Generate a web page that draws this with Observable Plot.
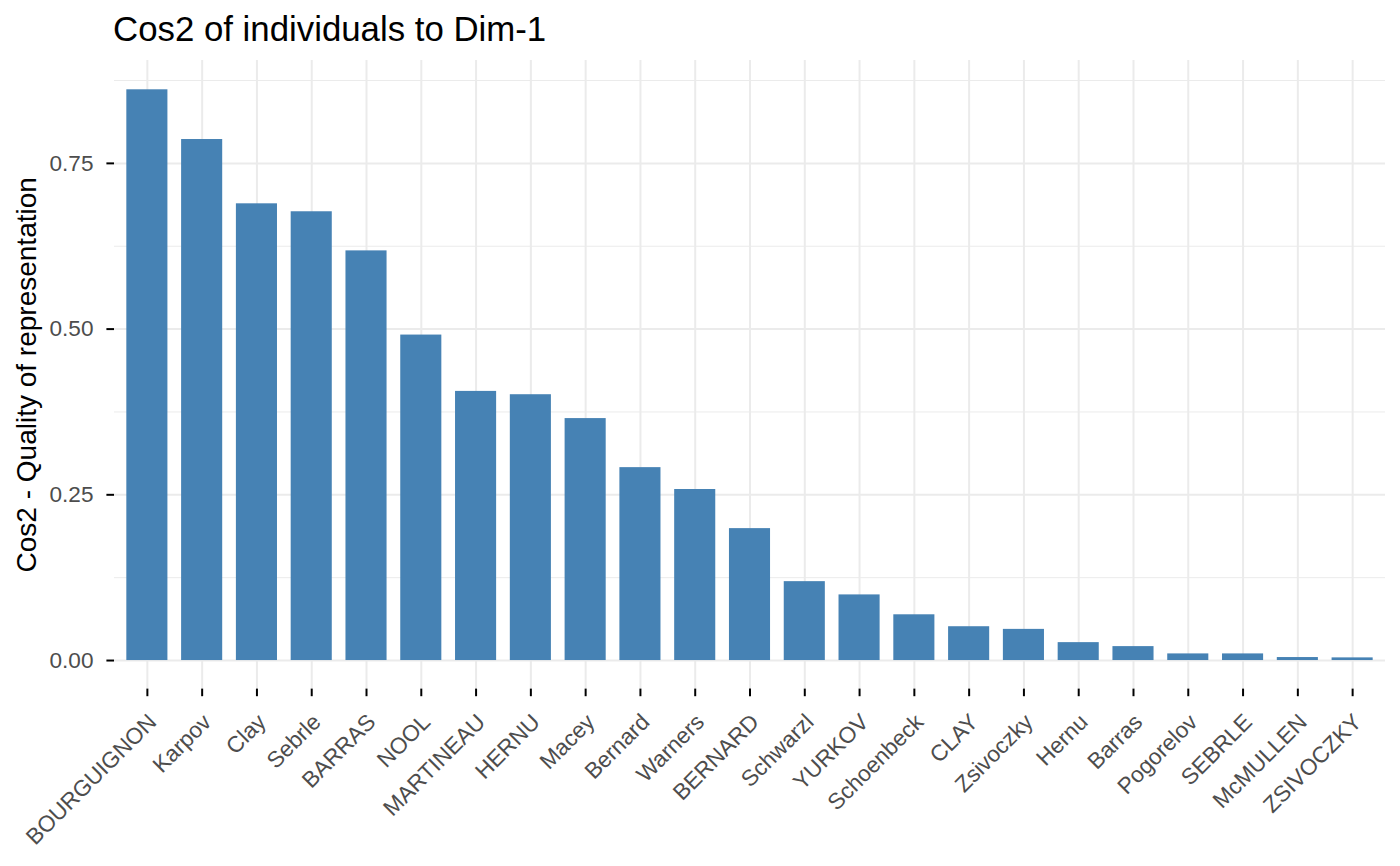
<!DOCTYPE html>
<html>
<head>
<meta charset="utf-8">
<script src="https://cdn.jsdelivr.net/npm/d3@7"></script>
<script src="https://cdn.jsdelivr.net/npm/@observablehq/plot@0.6"></script>
<style>
  html, body { margin: 0; padding: 0; background: #fff; }
  #title { height: 57px; line-height: 57px; padding-left: 113px; font-family: "Liberation Sans", Arial, Helvetica, sans-serif; font-size: 34.8px; color: #000; white-space: nowrap; }
  #chart svg { display: block; }
</style>
</head>
<body>
<div id="title">Cos2 of individuals to Dim-1</div>
<div id="chart"></div>
<script>
const names = ["BOURGUIGNON","Karpov","Clay","Sebrle","BARRAS","NOOL","MARTINEAU","HERNU","Macey","Bernard","Warners","BERNARD","Schwarzl","YURKOV","Schoenbeck","CLAY","Zsivoczky","Hernu","Barras","Pogorelov","SEBRLE","McMULLEN","ZSIVOCZKY"];
const cos2 = [0.861,0.786,0.689,0.677,0.618,0.491,0.406,0.401,0.365,0.291,0.258,0.199,0.119,0.099,0.069,0.051,0.047,0.027,0.021,0.010,0.010,0.0045,0.004];
const yTicks = [0, 0.25, 0.5, 0.75];
const yMinor = [0.125, 0.375, 0.625, 0.875];
const yLabel = "Cos2 - Quality of representation";

const data = names.map((n, i) => ({name: n, value: cos2[i]}));
const font = "Liberation Sans, Arial, Helvetica, sans-serif";
const fmt = d3.format(".2f");

const chart = Plot.plot({
  width: 1400,
  height: 809,
  marginTop: 3,
  marginBottom: 177.4,
  marginLeft: 114,
  marginRight: 15,
  style: {fontFamily: font, background: "#fff"},
  x: {domain: names, type: "band", paddingInner: 0.25, paddingOuter: 0.225, round: false},
  y: {domain: [-0.0431, 0.9052]},
  marks: [
    Plot.gridY(yMinor, {stroke: "#ebebeb", strokeOpacity: 1, strokeWidth: 1}),
    Plot.gridY(yTicks, {stroke: "#ebebeb", strokeOpacity: 1, strokeWidth: 2}),
    Plot.gridX(names, {stroke: "#ebebeb", strokeOpacity: 1, strokeWidth: 2}),
    Plot.barY(data, {x: "name", y1: 0, y2: "value", fill: "#4682b4"}),
    Plot.axisY(yTicks, {tickSize: 7.6, stroke: "#000", strokeWidth: 2, tickFormat: () => "", label: null}),
    Plot.text(yTicks, {y: d => d, text: d => fmt(d), frameAnchor: "left", dx: -21, textAnchor: "end", lineAnchor: "middle", fontSize: 22.6, fill: "#4d4d4d"}),
    Plot.axisX(names, {tickSize: 7.6, stroke: "#000", strokeWidth: 2, tickFormat: () => "", label: null}),
    Plot.text(names, {x: d => d, text: d => d, frameAnchor: "bottom", rotate: -45, textAnchor: "end", lineAnchor: "top", dx: -1, dy: 23, fontSize: 22.6, fill: "#4d4d4d"}),
    Plot.text([yLabel], {text: d => d, frameAnchor: "left", dx: -79, rotate: -90, textAnchor: "middle", lineAnchor: "bottom", fontSize: 28, fill: "#000"})
  ]
});
document.getElementById("chart").appendChild(chart);
</script>
</body>
</html>
